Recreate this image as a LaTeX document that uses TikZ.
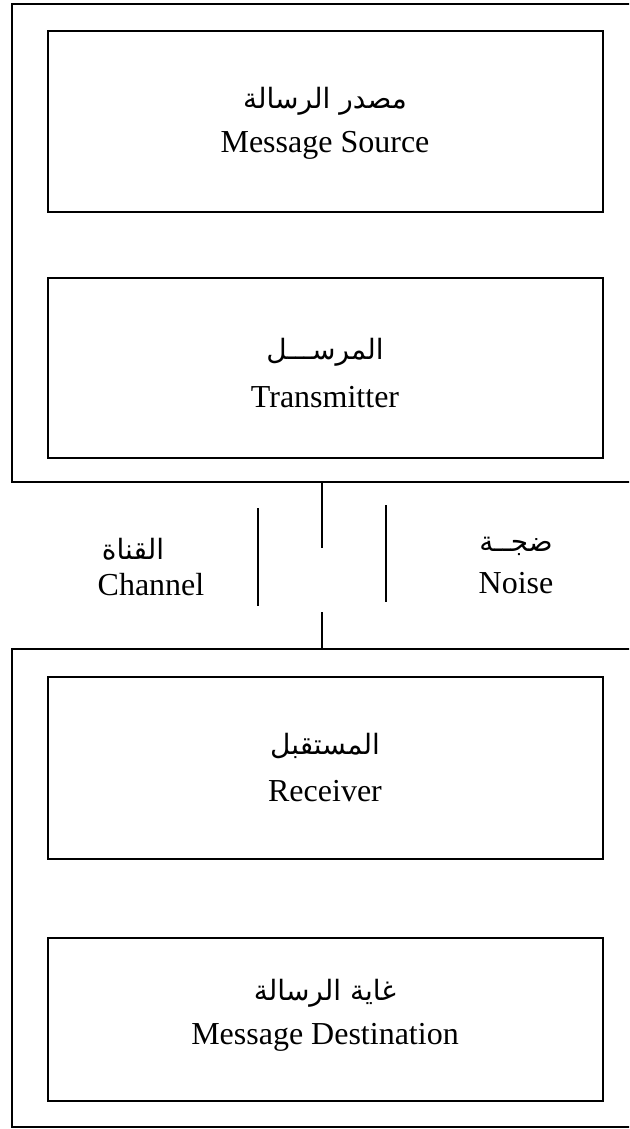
\documentclass[tikz,border=0pt]{standalone}
\usepackage{fontspec}
\setmainfont{Liberation Serif}
\newfontfamily\arabicfont[Script=Arabic]{DejaVu Sans}
\TeXXeTstate=1
\usetikzlibrary{fit}
\newcommand{\ar}[1]{{\arabicfont\fontsize{14}{17}\selectfont\beginR #1\endR}}
\begin{document}
\begin{tikzpicture}[x=0.5pt,y=-0.5pt,
  outerbox/.style={draw, inner sep=0pt, line width=1.4pt},
  blockbox/.style={draw, inner sep=0pt, line width=1.4pt},
  lbl/.style={inner sep=0pt, font=\fontsize{16}{22}\selectfont},
  chan/.style={line width=1.3pt}]
\useasboundingbox (0,0) rectangle (629,1129);
\clip (0,0) rectangle (629,1129);
% outer boxes
\node[outerbox, fit={(12,4) (650,482)}] (top) {};
\node[outerbox, fit={(12,649) (650,1127)}] (bot) {};
% inner blocks
\node[blockbox, fit={(48,31) (603,212)}] (src) {};
\node[lbl] (srcar) at (325,101) {\ar{مصدر الرسالة}};
\node[lbl] (srcen) at (325,145) {Message Source};
\node[blockbox, fit={(48,278) (603,458)}] (tx) {};
\node[lbl] (txar) at (325,352) {\ar{المرســـل}};
\node[lbl] (txen) at (325,397) {Transmitter};
\node[blockbox, fit={(48,677) (603,859)}] (rx) {};
\node[lbl] (rxar) at (325,746) {\ar{المستقبل}};
\node[lbl] (rxen) at (325,791) {Receiver};
\node[blockbox, fit={(48,938) (603,1101)}] (dst) {};
\node[lbl] (dstar) at (325,993) {\ar{غاية الرسالة}};
\node[lbl] (dsten) at (325,1037) {Message Destination};
% channel
\coordinate (c1) at (322,548);
\coordinate (c2) at (322,612);
\coordinate (l1) at (258,508);
\coordinate (l2) at (258,606);
\coordinate (r1) at (386,505);
\coordinate (r2) at (386,602);
\draw[chan] (top.south -| c1) -- (c1);
\draw[chan] (c2) -- (bot.north -| c2);
\draw[chan] (l1) -- (l2);
\draw[chan] (r1) -- (r2);
\node[lbl] (char) at (133,549) {\ar{القناة}};
\node[lbl] (chen) at (151,585) {Channel};
\node[lbl] (noar) at (516,546) {\ar{ضجــة}};
\node[lbl] (noen) at (516,583) {Noise};
\end{tikzpicture}
\end{document}
